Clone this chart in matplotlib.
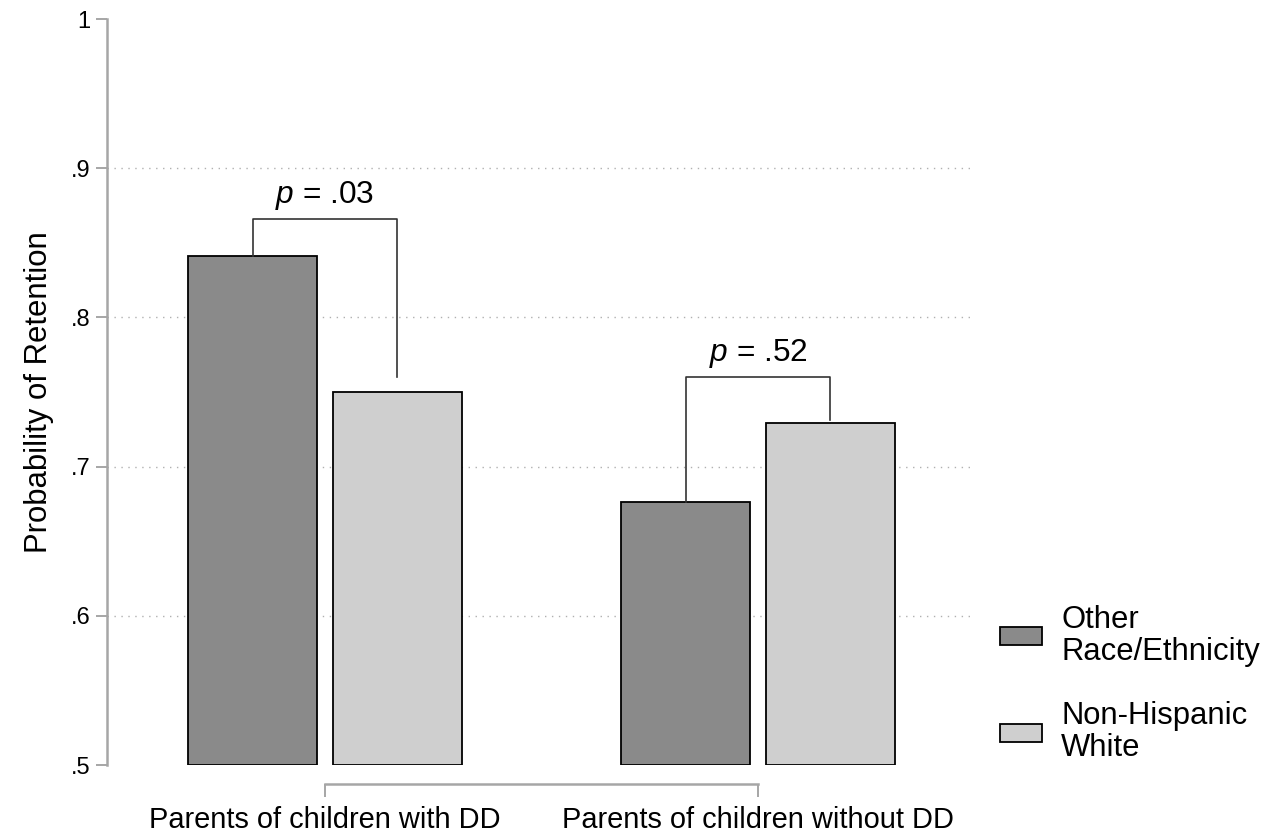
import matplotlib
matplotlib.use("Agg")
import matplotlib.pyplot as plt
import numpy as np

plt.rcParams['font.family'] = ['Liberation Sans', 'DejaVu Sans']
plt.rcParams['mathtext.fontset'] = 'custom'
plt.rcParams['mathtext.it'] = 'Liberation Sans:italic'
plt.rcParams['mathtext.rm'] = 'Liberation Sans'

groups = ["Parents of children with DD", "Parents of children without DD"]
series = ["Other\nRace/Ethnicity", "Non-Hispanic\nWhite"]
other = [0.841, 0.676]
white = [0.750, 0.729]
p_labels = [r"$p$ = .03", r"$p$ = .52"]
bracket_top = [0.866, 0.760]
bracket_right_end = [0.760, 0.731]
yticks = [0.5, 0.6, 0.7, 0.8, 0.9, 1.0]
ytick_labels = [".5", ".6", ".7", ".8", ".9", "1"]

fig = plt.figure(figsize=(12.68, 8.36), dpi=100)
ax = fig.add_axes([107/1268, 1 - 765/836, (975-107)/1268, (765-19)/836])

# spines first (moving a spine resets the ticks)
for s in ["top", "right"]:
    ax.spines[s].set_visible(False)
ax.spines["left"].set_color("#a6a6a6")
ax.spines["left"].set_linewidth(1.8)
ax.spines["bottom"].set_color("#a6a6a6")
ax.spines["bottom"].set_linewidth(1.8)
ax.spines["bottom"].set_position(("outward", 13.7))

x = np.arange(len(groups))
off = 0.167
w = 0.298
ax.bar(x - off, [v - 0.5 for v in other], w, bottom=0.5, color="#8a8a8a",
       edgecolor="black", linewidth=1.3, label=series[0], zorder=3)
ax.bar(x + off, [v - 0.5 for v in white], w, bottom=0.5, color="#cfcfcf",
       edgecolor="black", linewidth=1.3, label=series[1], zorder=3)

# brackets with p-values
for i in range(len(groups)):
    xl, xr = x[i] - off, x[i] + off
    ax.plot([xl, xl, xr, xr], [other[i], bracket_top[i], bracket_top[i], bracket_right_end[i]],
            color="#333333", linewidth=1.2, zorder=4)
    ax.annotate(p_labels[i], (x[i], bracket_top[i]), xytext=(0, 5), textcoords="offset points",
                ha="center", va="bottom", fontsize=22.8)

ax.set_xlim(-0.503, 1.501)
ax.set_ylim(0.5, 1.0)
ax.set_yticks(yticks)
ax.set_yticklabels(ytick_labels)
ax.set_xticks(x)
ax.set_xticklabels(groups)
ax.set_ylabel("Probability of Retention", fontsize=22.4, labelpad=12)
ax.spines["bottom"].set_bounds(x[0], x[-1])
ax.tick_params(axis="y", length=8, width=1.4, color="#a6a6a6", pad=4, labelsize=17)
ax.tick_params(axis="x", length=9, width=1.4, color="#a6a6a6", pad=7, labelsize=20.9)

# dotted grid only at inner ticks
for v in yticks[1:-1]:
    ax.axhline(v, linestyle=(0, (1, 4)), color="#b0b0b0", linewidth=1.0, zorder=1)

leg = fig.legend(loc="center left", bbox_to_anchor=(1000/1268, 0.182), frameon=False,
                 fontsize=22.3, handlelength=1.35, handleheight=0.52, handletextpad=0.62,
                 labelspacing=1.1, borderpad=0, borderaxespad=0)
for t in leg.get_texts():
    t.set_linespacing(1.1)

fig.savefig("out.png", dpi=100)
